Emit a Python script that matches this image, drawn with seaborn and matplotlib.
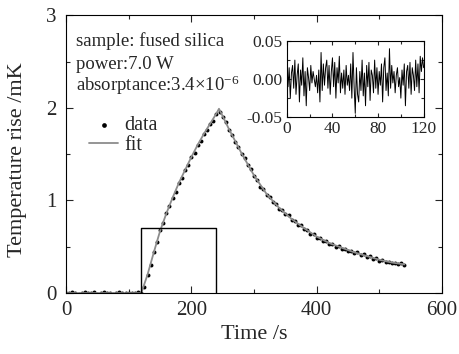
import numpy as np
import matplotlib
matplotlib.use("Agg")
import matplotlib.pyplot as plt
from matplotlib.ticker import MultipleLocator, FormatStrFormatter
import seaborn as sns

sns.set_style("ticks")
plt.rcParams['font.family'] = ['Liberation Serif', 'DejaVu Serif']
plt.rcParams['mathtext.fontset'] = 'custom'
plt.rcParams['mathtext.rm'] = 'Liberation Serif'
plt.rcParams['mathtext.it'] = 'Liberation Serif:italic'

#%% data
time_s = np.arange(0, 545, 5)
temp_rise = [
    # 0 - 120 s, laser off
    0.006, -0.004, 0.009, 0.002, -0.007, 0.004, 0.010, -0.003, 0.001, 0.007,
    -0.005, 0.003, 0.008, -0.002, 0.005, -0.006, 0.002, 0.009, 0.000, -0.004,
    0.006, 0.003, -0.002, 0.007, 0.004,
    # 125 - 245 s, heating
    0.07, 0.20, 0.30, 0.44, 0.55, 0.68, 0.76, 0.87, 0.94, 1.03,
    1.09, 1.19, 1.24, 1.33, 1.38, 1.47, 1.51, 1.60, 1.64, 1.72,
    1.76, 1.83, 1.86, 1.93, 1.95,
    # 250 - 540 s, cooling
    1.90, 1.85, 1.76, 1.71, 1.63, 1.58, 1.50, 1.46, 1.38, 1.34,
    1.26, 1.22, 1.15, 1.12, 1.06, 1.04, 0.98, 0.96, 0.91, 0.90,
    0.85, 0.84, 0.79, 0.78, 0.74, 0.73, 0.69, 0.68, 0.64, 0.64,
    0.60, 0.60, 0.56, 0.56, 0.53, 0.53, 0.50, 0.51, 0.48, 0.48,
    0.45, 0.46, 0.43, 0.44, 0.41, 0.42, 0.39, 0.40, 0.37, 0.38,
    0.35, 0.36, 0.34, 0.34, 0.32, 0.33, 0.31, 0.32, 0.30,
]

fit_time = [0, 120, 130, 140, 150, 160, 170, 180, 190, 200, 210, 220, 230, 240, 244,
            250, 260, 270, 280, 290, 300, 320, 340, 360, 380, 400, 420, 440, 460,
            480, 500, 520, 540]
fit_temp = [0, 0, 0.20, 0.44, 0.67, 0.86, 1.03, 1.19, 1.33, 1.47, 1.60, 1.72, 1.83, 1.94, 1.99,
            1.91, 1.77, 1.64, 1.51, 1.39, 1.27, 1.07, 0.92, 0.80, 0.70, 0.61, 0.54, 0.49, 0.44,
            0.40, 0.36, 0.33, 0.31]

# laser on/off
pulse_time = [120, 120, 240, 240]
pulse_level = [0, 0.7, 0.7, 0]

# residuals (inset)
resid_time = np.arange(0, 121, 1)
resid = [
    0.022, -0.010, 0.015, -0.025, 0.008, 0.018, -0.012, 0.025, -0.020, 0.005,
    0.020, -0.030, 0.012, -0.008, 0.028, -0.022, 0.010, -0.035, 0.015, 0.002,
    -0.015, 0.018, -0.005, 0.010, 0.000, -0.010, 0.005, -0.018, 0.012, -0.030,
    0.035, -0.015, 0.020, -0.008, 0.015, 0.025, -0.012, 0.018, -0.020, 0.010,
    0.028, -0.010, 0.022, -0.025, 0.015, -0.005, 0.030, -0.018, 0.008, -0.012,
    0.012, -0.020, 0.018, -0.008, 0.005, -0.015, 0.020, -0.025, 0.035, -0.010,
    -0.045, 0.015, -0.020, -0.030, 0.010, -0.015, 0.025, -0.022, 0.008, -0.035,
    0.018, -0.010, 0.022, -0.028, 0.012, 0.005, -0.018, 0.025, -0.012, 0.015,
    -0.020, 0.010, -0.008, 0.020, -0.030, 0.015, 0.028, -0.015, 0.008, -0.022,
    0.040, -0.012, 0.018, -0.005, 0.010, -0.018, 0.005, 0.015, -0.010, 0.002,
    -0.025, 0.012, -0.008, 0.020, -0.035, 0.010, 0.018, -0.012, 0.022, -0.020,
    0.015, 0.005, -0.015, 0.025, -0.010, 0.020, -0.018, 0.030, 0.010, 0.028, 0.015,
]

info_lines = ['sample: fused silica', 'power:7.0 W', 'absorptance:3.4\u00d710$^{-6}$']

#%%
fig = plt.figure(figsize=(4.59, 3.54), dpi=100)
ax = fig.add_axes([0.144, 0.172, 0.819, 0.785])

sns.lineplot(x=fit_time, y=fit_temp, color='0.55', lw=1.3, ax=ax, label='fit')
sns.scatterplot(x=time_s, y=temp_rise, color='k', s=8, linewidth=0, ax=ax, label='data')
sns.lineplot(x=pulse_time, y=pulse_level, sort=False, estimator=None,
             color='k', lw=1.0, ax=ax)

ax.set_xlim(0, 600)
ax.set_ylim(0, 3)
ax.xaxis.set_major_locator(MultipleLocator(200))
ax.xaxis.set_minor_locator(MultipleLocator(100))
ax.yaxis.set_major_locator(MultipleLocator(1))
ax.yaxis.set_minor_locator(MultipleLocator(0.5))
ax.tick_params(which='both', direction='in', top=True, right=True, labelsize=15, width=0.8)
ax.tick_params(which='major', length=5)
ax.tick_params(which='minor', length=3)
ax.tick_params(axis='x', pad=6)
ax.tick_params(axis='y', pad=7)
for s in ax.spines.values():
    s.set_linewidth(0.8)
    s.set_color('k')
ax.set_xlabel('Time /s', fontsize=16, labelpad=3)
ax.set_ylabel('Temperature rise /mK', fontsize=16)
ax.yaxis.set_label_coords(-0.105, 0.48)

for line, yb in zip(info_lines, [0.888, 0.807, 0.728]):
    ax.text(0.027, yb, line, transform=ax.transAxes, fontsize=13.5,
            va='baseline', ha='left')

handles, labels = ax.get_legend_handles_labels()
order = [labels.index('data'), labels.index('fit')]
ax.legend([handles[i] for i in order], [labels[i] for i in order],
          loc='upper left', bbox_to_anchor=(0.061, 0.637), frameon=False,
          borderpad=0, borderaxespad=0,
          fontsize=14.5, handlelength=1.45, handletextpad=0.3, labelspacing=0.05,
          markerscale=1.2)

# inset with residuals
axins = fig.add_axes([0.625, 0.669, 0.298, 0.215])
sns.lineplot(x=resid_time, y=resid, color='k', lw=0.7, ax=axins)
axins.set_xlim(0, 120)
axins.set_ylim(-0.05, 0.05)
axins.xaxis.set_major_locator(MultipleLocator(40))
axins.xaxis.set_minor_locator(MultipleLocator(20))
axins.yaxis.set_major_locator(MultipleLocator(0.05))
axins.yaxis.set_minor_locator(MultipleLocator(0.025))
axins.yaxis.set_major_formatter(FormatStrFormatter('%.2f'))
axins.tick_params(which='both', direction='in', top=True, right=True, labelsize=12.5, width=0.8)
axins.tick_params(which='major', length=3, pad=3)
axins.tick_params(which='minor', length=2)
for s in axins.spines.values():
    s.set_linewidth(0.8)
    s.set_color('k')

fig.savefig('out.png', dpi=100)
